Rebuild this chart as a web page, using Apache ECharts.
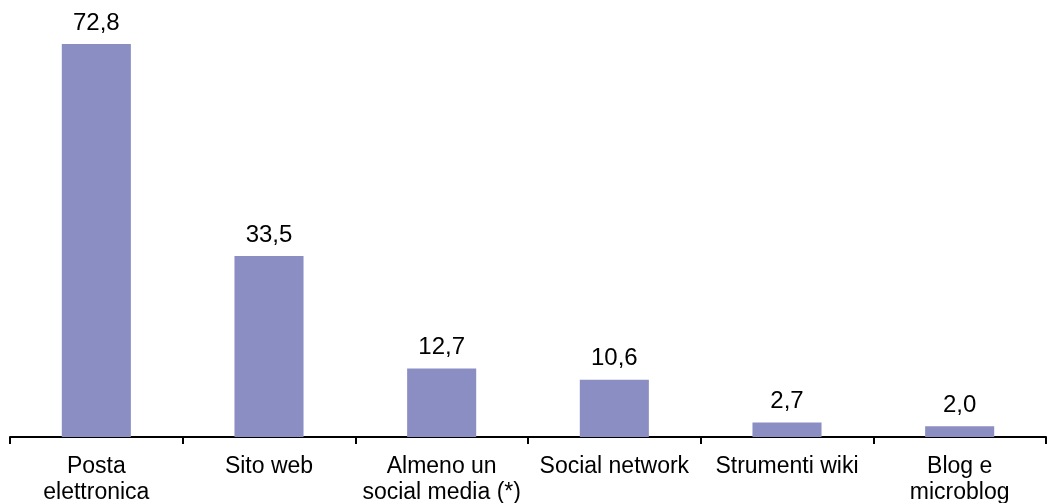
<!DOCTYPE html>
<html><head><meta charset="utf-8">
<script src="https://cdn.jsdelivr.net/npm/echarts@6/dist/echarts.min.js"></script>
<style>html,body{margin:0;padding:0;background:#fff}#c{width:1048px;height:503px}</style>
</head><body><div id="c"></div>
<script>
const categories = ["Posta\nelettronica", "Sito web", "Almeno un\nsocial media (*)", "Social network", "Strumenti wiki", "Blog e\nmicroblog"];
const values = [72.8, 33.5, 12.7, 10.6, 2.7, 2.0];
const chart = echarts.init(document.getElementById('c'));
chart.setOption({
  animation: false,
  backgroundColor: '#fff',
  grid: {left: 10, right: 2, top: 5, bottom: 66, containLabel: false, outerBoundsMode: 'none'},
  xAxis: {
    type: 'category', data: categories,
    axisLine: {lineStyle: {color: '#000', width: 2}},
    axisTick: {show: true, length: 7, lineStyle: {color: '#000', width: 2}, alignWithLabel: false},
    axisLabel: {interval: 0, color: '#000', fontSize: 23, fontFamily: 'Liberation Sans, Arial, sans-serif', lineHeight: 26, margin: 17}
  },
  yAxis: {type: 'value', min: 0, max: 80, show: false, splitLine: {show: false}},
  series: [{
    type: 'bar', data: values, barWidth: '40%',
    itemStyle: {color: '#8B8EC3'},
    label: {show: true, position: 'top', distance: 9, color: '#000', fontSize: 24,
      fontFamily: 'Liberation Sans, Arial, sans-serif',
      formatter: p => p.value.toFixed(1).replace('.', ',')}
  }]
});
</script></body></html>
